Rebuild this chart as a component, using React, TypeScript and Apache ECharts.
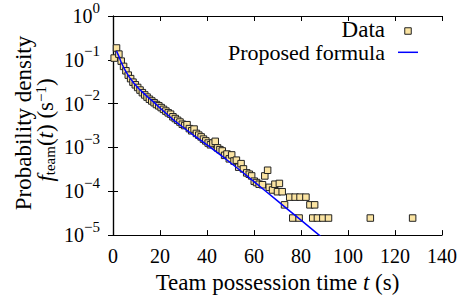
import React, { useEffect, useRef } from "react";
import * as echarts from "echarts";

// Team possession time t (s) of each histogram point
const dataT = [
  0.5, 1.5, 2.5, 3.5, 4.5, 5.5, 6.5, 7.5, 8.5, 9.5,
  10.5, 11.5, 12.5, 13.5, 14.5, 15.5, 16.5, 17.5, 18.5, 19.5,
  20.5, 21.5, 22.5, 23.5, 24.5, 25.5, 26.5, 27.5, 28.5, 29.5,
  30.5, 31.5, 32.5, 33.5, 34.5, 35.5, 36.5, 37.5, 38.5, 39.5,
  40.5, 41.5, 42.5, 43.5, 44.5, 45.5, 46.5, 47.5, 48.5, 49.5,
  50.5, 51.5, 52.5, 53.5, 54.5, 55.5, 56.9, 58.0, 59.0, 60.1,
  61.1, 62.2, 63.6, 64.6, 65.8, 66.5, 67.9, 68.9, 70.0, 70.8,
  72.0, 73.0, 75.2, 77.5, 79.6, 82.1, 83.8, 85.8, 76.5, 79.2,
  85.0, 87.0, 89.3, 91.7, 109.5, 127.5,
];
// Probability density f_team(t) (1/s)
const dataF = [
  0.1096, 0.1862, 0.1349, 0.0933, 0.0708, 0.0562, 0.0447, 0.0372, 0.0309, 0.0269,
  0.0234, 0.0204, 0.0178, 0.0158, 0.0141, 0.0126, 0.0115, 0.0105, 0.00955, 0.00891,
  0.00813, 0.00741, 0.00676, 0.00617, 0.00575, 0.00501, 0.00457, 0.00417, 0.0038, 0.00339,
  0.00316, 0.00331, 0.00269, 0.0024, 0.00263, 0.00209, 0.00191, 0.00174, 0.00155, 0.00141,
  0.00126, 0.00115, 0.00126, 0.00138, 0.000977, 0.000891, 0.000832, 0.000661, 0.000708, 0.00055,
  0.000676, 0.00049, 0.000513, 0.000355, 0.000427, 0.000324, 0.000263, 0.000245, 0.000224, 0.00017,
  0.000158, 0.000145, 0.000141, 0.000224, 0.000302, 0.000123, 0.000107, 0.000145, 0.0000977, 0.000151,
  0.0000977, 0.000049, 0.0000735, 0.0000735, 0.0000735, 0.0000735, 0.000049, 0.000049, 0.0000245, 0.0000245,
  0.0000245, 0.0000245, 0.0000245, 0.0000245, 0.0000245, 0.0000245,
];

// Proposed formula, sampled off the curve
const fitT = [1.5, 2.5, 3.5, 4.5, 5.5, 7, 9, 11, 13, 15, 17.5, 20, 22.5, 25, 30, 35, 40, 45, 50, 55, 60, 65, 70, 75, 80, 85, 90];
const fitF = [
  0.158, 0.12, 0.0871, 0.0676, 0.0537, 0.0398, 0.0288, 0.0219, 0.0174, 0.0138,
  0.0107, 0.00794, 0.00603, 0.00457, 0.00282, 0.00178, 0.00115, 0.000724, 0.000447, 0.000275,
  0.000166, 0.0001, 0.0000603, 0.0000363, 0.0000219, 0.0000132, 0.00000794,
];

const xMin = 0;
const xMax = 140;
const xStep = 20;
const yMin = 1e-5;
const yMax = 1;

const seriesNames = ["Data", "Proposed formula"];

export default function App() {
  const ref = useRef<HTMLDivElement>(null);
  useEffect(() => {
    const chart = echarts.init(ref.current!, null, { renderer: "svg" });
    const serif = "'Liberation Serif', 'Times New Roman', serif";
    const textSize = 23;
    const legendSize = 22;
    const tickSize = 20;
    const supSize = 15;
    const axisLine = { show: true, lineStyle: { color: "#000", width: 1.2 } };
    const tick = { show: true, inside: true, length: 5, lineStyle: { color: "#000", width: 1 } };
    const yLabelFmt = (v: number) => {
      const e = Math.round(Math.log10(v));
      return e === 0 ? "10{sup|0}" : "10{sup|\u2212" + -e + "}";
    };
    chart.setOption({
      animation: false,
      backgroundColor: "#fff",
      grid: { left: 113, right: 17, top: 14, bottom: 62 },
      xAxis: [
        {
          type: "value", min: xMin, max: xMax, interval: xStep, position: "bottom",
          axisLine, axisTick: tick, splitLine: { show: false },
          axisLabel: { margin: 11, fontFamily: serif, fontSize: tickSize, color: "#000" },
          name: "Team possession time {i|t} (s)", nameLocation: "middle", nameGap: 26,
          nameTextStyle: {
            fontFamily: serif, fontSize: textSize, color: "#000",
            rich: { i: { fontFamily: serif, fontSize: textSize, fontStyle: "italic", color: "#000" } },
          },
        },
        {
          type: "value", min: xMin, max: xMax, interval: xStep, position: "top",
          axisLine, axisTick: tick, axisLabel: { show: false }, splitLine: { show: false },
        },
      ],
      yAxis: [
        {
          type: "log", logBase: 10, min: yMin, max: yMax, interval: 1, position: "left",
          axisLine, axisTick: tick, splitLine: { show: false }, minorTick: { show: false },
          axisLabel: {
            margin: 13, fontFamily: serif, fontSize: tickSize, color: "#000", lineHeight: 32,
            formatter: yLabelFmt,
            rich: { sup: { fontFamily: serif, fontSize: supSize, lineHeight: 13, verticalAlign: "top", color: "#000" } },
          },
        },
        {
          type: "log", logBase: 10, min: yMin, max: yMax, interval: 1, position: "right",
          axisLine, axisTick: tick, axisLabel: { show: false }, splitLine: { show: false },
        },
      ],
      series: [
        {
          name: seriesNames[0], type: "scatter", symbol: "rect", symbolSize: 6.5,
          xAxisIndex: 0, yAxisIndex: 0,
          itemStyle: { color: "#fbe4a2", borderColor: "#222", borderWidth: 1, opacity: 1 },
          data: dataT.map((t, i) => [t, dataF[i]]),
          z: 2,
        },
        {
          name: seriesNames[1], type: "line", showSymbol: false, symbol: "none",
          xAxisIndex: 0, yAxisIndex: 0, clip: true,
          lineStyle: { color: "#0000ff", width: 1.5 },
          data: fitT.map((t, i) => [t, fitF[i]]),
          z: 3,
        },
      ],
      graphic: [
        {
          type: "text", x: 23, y: 123, rotation: Math.PI / 2,
          style: { text: "Probability density", fontFamily: serif, fontSize: textSize, lineHeight: 19, fill: "#000", align: "center", verticalAlign: "middle" },
        },
        {
          type: "text", x: 45, y: 130, rotation: Math.PI / 2,
          style: {
            text: "{i|f}{sub|team}({i|t}) (s{sup|\u22121})",
            fontFamily: serif, fontSize: textSize, fill: "#000", align: "center", verticalAlign: "middle", lineHeight: 24,
            rich: {
              i: { fontFamily: serif, fontSize: textSize, fontStyle: "italic", fill: "#000", lineHeight: 24 },
              sub: { fontFamily: serif, fontSize: supSize, fill: "#000", verticalAlign: "bottom", lineHeight: 12 },
              sup: { fontFamily: serif, fontSize: supSize, fill: "#000", verticalAlign: "top", lineHeight: 12 },
            },
          },
        },
        {
          type: "text", x: 385, y: 29.5,
          style: { text: seriesNames[0], fontFamily: serif, fontSize: legendSize + 1, lineHeight: 19, fill: "#000", align: "right", verticalAlign: "middle" },
        },
        {
          type: "rect", shape: { x: 404.75, y: 27.75, width: 6.5, height: 6.5 },
          style: { fill: "#fbe4a2", stroke: "#222", lineWidth: 1 },
        },
        {
          type: "text", x: 385, y: 52.5,
          style: { text: seriesNames[1], fontFamily: serif, fontSize: legendSize, lineHeight: 19, fill: "#000", align: "right", verticalAlign: "middle" },
        },
        {
          type: "line", shape: { x1: 398, y1: 52.3, x2: 418, y2: 52.3 },
          style: { stroke: "#0000ff", lineWidth: 1.5 },
        },
      ],
    });
    return () => chart.dispose();
  }, []);
  return <div ref={ref} style={{ position: "fixed", left: 0, top: 0, width: 460, height: 299 }} />;
}
